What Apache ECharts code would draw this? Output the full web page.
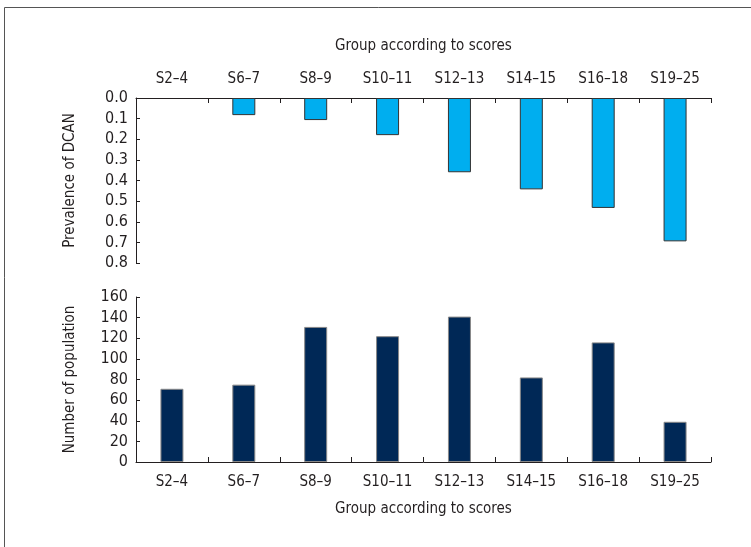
<!DOCTYPE html>
<html><head><meta charset="utf-8">
<script src="https://cdn.jsdelivr.net/npm/echarts@6/dist/echarts.min.js"></script>
<style>html,body{margin:0;padding:0;background:#fff}#c{width:751px;height:547px}</style>
</head><body><div id="c"></div>
<script>
const categories = ['S2\u20134','S6\u20137','S8\u20139','S10\u201311','S12\u201313','S14\u201315','S16\u201318','S19\u201325'];
const prevalence = [0, 0.083, 0.107, 0.18, 0.36, 0.443, 0.533, 0.695];
const population = [71, 75, 131, 122, 141, 82, 116, 39];
const xName = 'Group according to scores';
const topYName = 'Prevalence of DCAN';
const bottomYName = 'Number of population';

const FONT = '"DejaVu Sans Condensed", "Liberation Sans Narrow", sans-serif';
const TXT = '#231f20';
const lineStyle = {color: TXT, width: 1};
const tick = {show: true, inside: true, length: 5, interval: 0, alignWithLabel: false, lineStyle: {color: '#231f20', width: 1}};
const chart = echarts.init(document.getElementById('c'));
chart.setOption({
  animation: false,
  textStyle: {fontFamily: FONT, color: TXT},
  graphic: [{type: 'rect', shape: {x: 4.5, y: 7.5, width: 900, height: 700}, style: {fill: 'none', stroke: '#555', lineWidth: 1}}],
  grid: [
    {left: 136, top: 98, width: 575, height: 165},
    {left: 136, top: 297, width: 575, height: 165}
  ],
  xAxis: [
    {gridIndex: 0, type: 'category', data: categories, position: 'top',
     name: xName, nameLocation: 'middle', nameGap: 44,
     nameTextStyle: {fontFamily: FONT, fontSize: 15, color: TXT},
     axisLine: {onZero: false, lineStyle}, axisTick: tick,
     axisLabel: {interval: 0, fontFamily: FONT, fontSize: 15, color: TXT, margin: 11}},
    {gridIndex: 1, type: 'category', data: categories, position: 'bottom',
     name: xName, nameLocation: 'middle', nameGap: 40,
     nameTextStyle: {fontFamily: FONT, fontSize: 15, color: TXT},
     axisLine: {onZero: false, lineStyle}, axisTick: tick,
     axisLabel: {interval: 0, fontFamily: FONT, fontSize: 15, color: TXT, margin: 13}}
  ],
  yAxis: [
    {gridIndex: 0, type: 'value', inverse: true, min: 0, max: 0.8, interval: 0.1,
     name: topYName, nameLocation: 'middle', nameGap: 58, nameRotate: 90,
     nameTextStyle: {fontFamily: FONT, fontSize: 15, color: TXT},
     splitLine: {show: false},
     axisLine: {show: true, lineStyle}, axisTick: {show: true, inside: true, length: 4, lineStyle},
     axisLabel: {fontFamily: FONT, fontSize: 16, color: TXT, margin: 8, formatter: v => v.toFixed(1)}},
    {gridIndex: 1, type: 'value', min: 0, max: 160, interval: 20,
     name: bottomYName, nameLocation: 'middle', nameGap: 58, nameRotate: 90,
     nameTextStyle: {fontFamily: FONT, fontSize: 15, color: TXT},
     splitLine: {show: false},
     axisLine: {show: true, lineStyle}, axisTick: {show: true, inside: true, length: 4, lineStyle},
     axisLabel: {fontFamily: FONT, fontSize: 16, color: TXT, margin: 8}}
  ],
  series: [
    {type: 'bar', xAxisIndex: 0, yAxisIndex: 0, barWidth: 23,
     data: prevalence.map(v => v === 0 ? {value: v, itemStyle: {borderWidth: 0}} : v),
     itemStyle: {color: '#00aeef', borderColor: '#333', borderWidth: 1}},
    {type: 'bar', xAxisIndex: 1, yAxisIndex: 1, data: population, barWidth: 23,
     itemStyle: {color: '#002856', borderColor: '#888', borderWidth: 1}}
  ]
});
</script></body></html>
